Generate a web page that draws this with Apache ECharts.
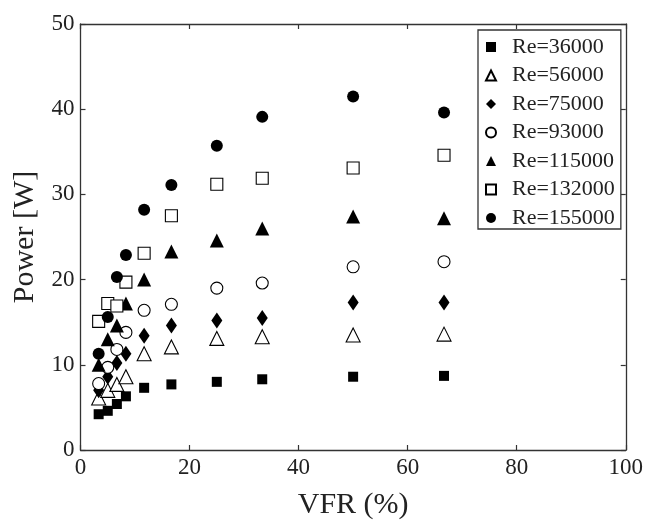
<!DOCTYPE html>
<html>
<head>
<meta charset="utf-8">
<script src="https://cdn.jsdelivr.net/npm/echarts@6/dist/echarts.min.js"></script>
<style>
  html, body { margin: 0; padding: 0; background: #fff; }
  #chart { width: 646px; height: 525px; }
</style>
</head>
<body>
<div id="chart"></div>
<script>
// Volume flow ratio (%) at which power was measured
const vfr = [3.33, 5, 6.67, 8.33, 11.67, 16.67, 25, 33.33, 50, 66.67];

// Power [W] for each Reynolds number
const re36000  = [4.2, 4.6, 5.4, 6.3, 7.3, 7.7, 8.0, 8.3, 8.6, 8.7];
const re56000  = [6.1, 7.0, 7.7, 8.6, 11.3, 12.1, 13.1, 13.3, 13.5, 13.6];
const re75000  = [7.0, 8.6, 10.2, 11.3, 13.4, 14.6, 15.2, 15.5, 17.3, 17.3];
const re93000  = [7.8, 9.7, 11.8, 13.8, 16.4, 17.1, 19.0, 19.6, 21.5, 22.1];
const re115000 = [10.0, 13.0, 14.6, 17.2, 20.0, 23.3, 24.6, 26.0, 27.4, 27.2];
const re132000 = [15.1, 17.2, 16.9, 19.7, 23.1, 27.5, 31.2, 31.9, 33.1, 34.6];
const re155000 = [11.3, 15.6, 20.3, 22.9, 28.2, 31.1, 35.7, 39.1, 41.5, 39.6];

const seriesNames = ['Re=36000', 'Re=56000', 'Re=75000', 'Re=93000', 'Re=115000', 'Re=132000', 'Re=155000'];
const seriesValues = [re36000, re56000, re75000, re93000, re115000, re132000, re155000];

const xTicks = [0, 20, 40, 60, 80, 100];
const yTicks = [0, 10, 20, 30, 40, 50];

// marker look per series: symbol, size, filled?
const markers = [
  { symbol: 'rect',     size: 10,       filled: true  },
  { symbol: 'triangle', size: 14,       filled: false },
  { symbol: 'diamond',  size: [11, 16], filled: true  },
  { symbol: 'circle',   size: 12,       filled: false },
  { symbol: 'triangle', size: 14,       filled: true  },
  { symbol: 'rect',     size: 12,       filled: false },
  { symbol: 'circle',   size: 12,       filled: true  }
];

const font = '"Liberation Serif", "DejaVu Serif", serif';
const ink = '#222';

const chart = echarts.init(document.getElementById('chart'), null, { renderer: 'canvas' });

const series = seriesNames.map((name, i) => ({
  name: name,
  type: 'scatter',
  data: vfr.map((x, j) => [x, seriesValues[i][j]]),
  symbol: markers[i].symbol,
  symbolSize: markers[i].size,
  itemStyle: {
    color: markers[i].filled ? '#000' : '#fff',
    borderColor: '#000',
    borderWidth: markers[i].filled ? 0 : 1.1,
    opacity: 1
  },
  emphasis: { disabled: true },
  z: 2 + i
}));

const baseAxis = {
  axisLine: { show: true, onZero: false, lineStyle: { color: '#333', width: 1.3 } },
  axisTick: { show: true, inside: true, length: 5, lineStyle: { color: '#333', width: 1.2 } },
  splitLine: { show: false }
};

chart.setOption({
  animation: false,
  backgroundColor: '#fff',
  grid: { left: 80.5, right: 19.5, top: 24, bottom: 75, containLabel: false },
  legend: {
    orient: 'vertical',
    left: 478,
    top: 30,
    padding: [6, 6, 0, 7],
    itemGap: 6.5,
    itemWidth: 10,
    itemHeight: 10,
    backgroundColor: '#fff',
    borderColor: '#333',
    borderWidth: 1.3,
    textStyle: { fontFamily: font, fontSize: 22, color: ink, padding: [0, 0, 0, 11] },
    data: seriesNames.map((n) => ({ name: n }))
  },
  xAxis: [
    Object.assign({}, baseAxis, {
      type: 'value', min: 0, max: 100, interval: 20,
      name: 'VFR (%)', nameLocation: 'middle', nameGap: 40,
      nameTextStyle: { fontFamily: font, fontSize: 30, color: ink },
      axisLabel: {
        fontFamily: font, fontSize: 23, color: ink, margin: 6,
        formatter: (v) => (xTicks.indexOf(v) >= 0 ? String(v) : '')
      }
    }),
    Object.assign({}, baseAxis, {
      type: 'value', min: 0, max: 100, interval: 20, position: 'top',
      axisLabel: { show: false }
    })
  ],
  yAxis: [
    Object.assign({}, baseAxis, {
      type: 'value', min: 0, max: 50, interval: 10,
      name: 'Power [W]', nameLocation: 'middle', nameGap: 37,
      nameTextStyle: { fontFamily: font, fontSize: 30, color: ink },
      axisLabel: {
        fontFamily: font, fontSize: 23, color: ink, margin: 6,
        formatter: (v) => (yTicks.indexOf(v) >= 0 ? String(v) : '')
      }
    }),
    Object.assign({}, baseAxis, {
      type: 'value', min: 0, max: 50, interval: 10, position: 'right',
      axisLabel: { show: false }
    })
  ],
  series: series
});
</script>
</body>
</html>
